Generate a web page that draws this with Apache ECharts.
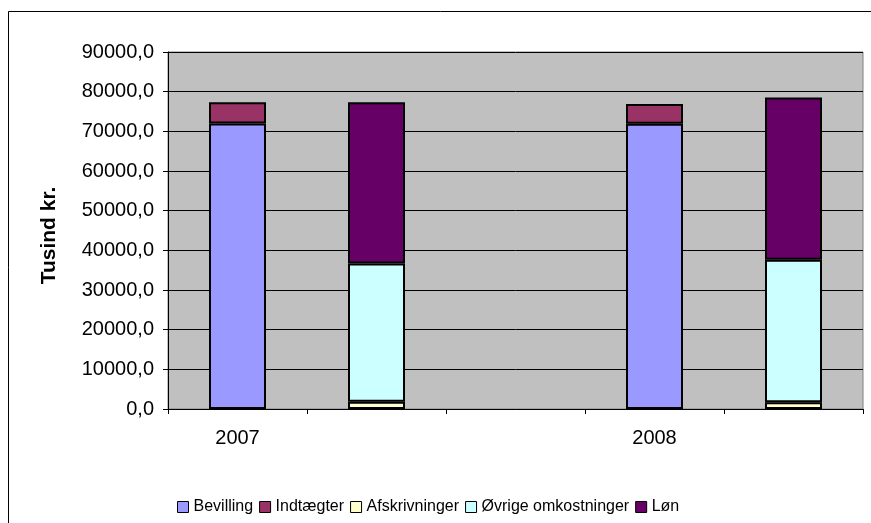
<!DOCTYPE html>
<html>
<head>
<meta charset="utf-8">
<script src="https://cdn.jsdelivr.net/npm/echarts@6/dist/echarts.min.js"></script>
<style>html,body{margin:0;padding:0;background:#fff}#c{width:871px;height:523px}</style>
</head>
<body>
<div id="c"></div>
<script>
var categories = ['2007', '', '', '2008', ''];
var bevilling = [72000, null, null, 71900, null];
var indtaegter = [5350, null, null, 5000, null];
var afskrivninger = [null, 1800, null, null, 1700];
var ovrige = [null, 34850, null, null, 35900];
var lon = [null, 40700, null, null, 40900];
var yTitle = 'Tusind kr.';

var font = '"Liberation Sans", Arial, sans-serif';
function s(name, data, color) {
  return {
    name: name, type: 'bar', stack: 'total', data: data, barWidth: 57,
    itemStyle: { color: color, borderColor: '#000', borderWidth: 2 }
  };
}
var chart = echarts.init(document.getElementById('c'), null, { renderer: 'canvas' });
chart.setOption({
  animation: false,
  textStyle: { fontFamily: font },
  graphic: [
    { type: 'rect', shape: { x: 8.5, y: 11.5, width: 900, height: 600 }, style: { fill: 'none', stroke: '#000', lineWidth: 1 }, z: -10 },
    { type: 'text', x: 49, y: 235.5, rotation: Math.PI / 2, style: { text: yTitle, font: 'bold 21px ' + font, fill: '#000', textAlign: 'center', textVerticalAlign: 'middle' } }
  ],
  grid: { left: 168, top: 52, right: 8, bottom: 114, show: true, backgroundColor: '#C0C0C0', borderColor: '#808080', borderWidth: 1 },
  legend: {
    bottom: 3, left: 172, itemWidth: 11, itemHeight: 11, itemGap: 6,
    textStyle: { fontSize: 16, color: '#000', fontFamily: font },
    icon: 'rect',
    itemStyle: { borderColor: '#000', borderWidth: 1 },
    data: ['Bevilling', 'Indtægter', 'Afskrivninger', 'Øvrige omkostninger', 'Løn']
  },
  xAxis: {
    type: 'category', data: categories,
    axisLine: { lineStyle: { color: '#000', width: 1 } },
    axisTick: { show: true, interval: 0, length: 5, lineStyle: { color: '#000' } },
    axisLabel: { interval: 0, fontSize: 20, color: '#000', margin: 19 },
    splitLine: { show: false }
  },
  yAxis: {
    type: 'value', min: 0, max: 90000, interval: 10000,
    axisLine: { show: true, lineStyle: { color: '#000', width: 1 } },
    axisTick: { show: true, length: 5, lineStyle: { color: '#000' } },
    axisLabel: { fontSize: 20, color: '#000', margin: 14, formatter: function (v) { return v.toFixed(1).replace('.', ','); } },
    splitLine: { show: true, lineStyle: { color: '#000', width: 1 } }
  },
  series: [
    s('Bevilling', bevilling, '#9999FF'),
    s('Indtægter', indtaegter, '#993366'),
    s('Afskrivninger', afskrivninger, '#FFFFCC'),
    s('Øvrige omkostninger', ovrige, '#CCFFFF'),
    s('Løn', lon, '#660066')
  ]
});
</script>
</body>
</html>
